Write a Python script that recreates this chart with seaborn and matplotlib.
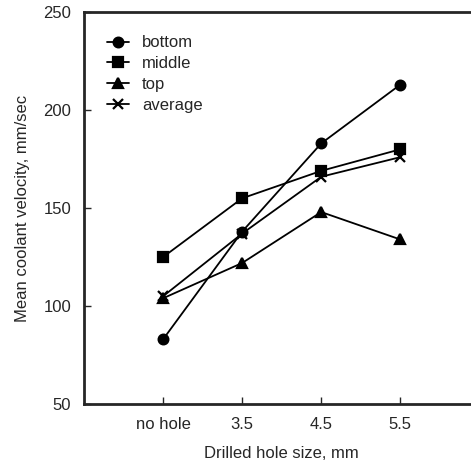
import matplotlib
matplotlib.use("Agg")
import matplotlib.pyplot as plt
import pandas as pd
import seaborn as sns

hole_sizes = ["no hole", "3.5", "4.5", "5.5"]
bottom = [83, 138, 183, 213]
middle = [125, 155, 169, 180]
top = [104, 122, 148, 134]
average = [105, 137, 166, 176]

series = {"bottom": bottom, "middle": middle, "top": top, "average": average}
markers = {"bottom": "o", "middle": "s", "top": "^", "average": "x"}

sns.set_style("ticks")
plt.rcParams["font.family"] = ["Liberation Sans", "DejaVu Sans"]

fig = plt.figure(figsize=(4.71, 4.63), dpi=100)
ax = fig.add_axes([0.178, 0.127, 0.84, 0.847])

pos = list(range(len(hole_sizes)))
for name, vals in series.items():
    df = pd.DataFrame({"hole": pos, "velocity": vals})
    sns.lineplot(data=df, x="hole", y="velocity", marker=markers[name],
                 color="black", markersize=7, linewidth=1.3,
                 markeredgecolor="black", markeredgewidth=1.6,
                 label=name, ax=ax)

ax.set_xlim(-1, 4)
ax.set_ylim(50, 250)
ax.set_yticks([50, 100, 150, 200, 250])
ax.set_xticks(pos)
ax.set_xticklabels(hole_sizes)
ax.tick_params(direction="in", length=5, width=1, labelsize=12, pad=9)
ax.tick_params(axis="y", pad=9)
for s in ["left", "bottom", "top"]:
    ax.spines[s].set_linewidth(2)
ax.spines["right"].set_visible(False)

ax.set_xlabel("Drilled hole size, mm", fontsize=12, labelpad=10)
ax.set_ylabel("Mean coolant velocity, mm/sec", fontsize=12, labelpad=10)

ax.legend(loc="upper left", frameon=False, fontsize=12, handlelength=1.3,
          handletextpad=0.8, labelspacing=0.35, borderaxespad=1.0)

fig.savefig("out.png", dpi=100)
